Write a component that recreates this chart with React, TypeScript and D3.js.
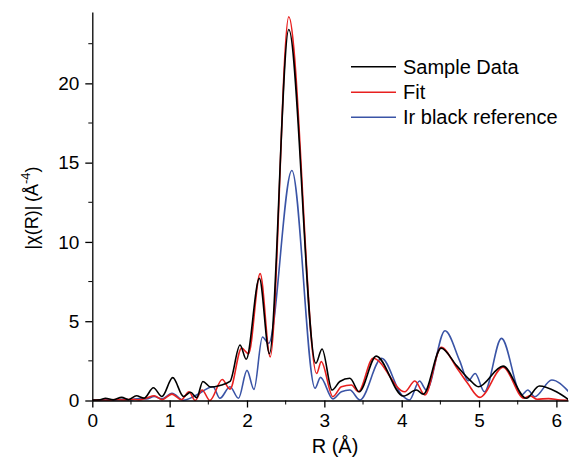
import { useRef, useEffect } from 'react';
import * as d3 from 'd3';

// Sample Data (black)
const sampleR = [0, 0.1, 0.17, 0.27, 0.38, 0.47, 0.57, 0.67, 0.79, 0.9, 1.04, 1.18, 1.27, 1.35, 1.43, 1.53, 1.65, 1.78, 1.91, 1.99, 2.16, 2.29, 2.54, 2.89, 2.97, 3.1, 3.2, 3.33, 3.45, 3.67, 4.02, 4.19, 4.28, 4.51, 4.71, 4.88, 4.99, 5.31, 5.61, 5.78, 6.0, 6.16];
const sampleChi = [0.03, 0.05, 0.14, 0.04, 0.2, 0.05, 0.3, 0.15, 0.8, 0.25, 1.44, 0.25, 0.52, 0.18, 1.2, 0.85, 0.95, 1.2, 3.5, 2.6, 7.7, 2.95, 23.4, 2.35, 3.25, 0.66, 1.2, 1.4, 0.55, 2.8, 0.28, 0.66, 0.4, 3.3, 2.2, 1.3, 0.87, 2.17, 0.14, 0.91, 0.55, 0.05];

// Fit (red)
const fitR = [0, 0.1, 0.2, 0.3, 0.4, 0.5, 0.6, 0.7, 0.8, 0.9, 1.03, 1.15, 1.25, 1.33, 1.42, 1.52, 1.68, 1.78, 1.93, 2.02, 2.17, 2.3, 2.54, 2.9, 2.96, 3.11, 3.22, 3.35, 3.44, 3.63, 4.04, 4.17, 4.3, 4.51, 4.72, 4.85, 5.01, 5.31, 5.58, 5.66, 5.75, 5.9, 6.05, 6.16];
const fitChi = [0.02, 0.04, 0.02, 0.06, 0.03, 0.08, 0.04, 0.15, 0.3, 0.05, 0.4, 0.05, 0.55, 0.0, 0.66, 0.0, 1.32, 0.72, 3.3, 2.95, 8.0, 2.75, 24.2, 1.7, 2.45, 0.24, 0.87, 0.98, 0.55, 2.66, 0.55, 1.23, 0.35, 3.35, 2.0, 1.1, 0.2, 2.1, 0.15, 0.3, 0.08, 0.12, 0.03, 0.02];

// Ir black reference (blue)
const refR = [0, 0.1, 0.2, 0.3, 0.4, 0.5, 0.6, 0.7, 0.8, 0.9, 1.03, 1.18, 1.33, 1.56, 1.65, 1.78, 1.89, 2.0, 2.09, 2.2, 2.28, 2.58, 2.88, 2.95, 3.11, 3.22, 3.33, 3.46, 3.74, 4.0, 4.1, 4.23, 4.32, 4.56, 4.75, 4.86, 4.95, 5.07, 5.29, 5.55, 5.63, 5.72, 5.94, 6.16];
const refChi = [0.02, 0.03, 0.05, 0.04, 0.08, 0.05, 0.12, 0.1, 0.25, 0.1, 0.45, 0.02, 0.3, 0.87, 0.14, 0.87, 0.14, 1.9, 0.7, 4.0, 3.6, 14.5, 0.77, 1.46, 0.1, 0.55, 0.66, 0.03, 2.66, 0.35, 0.03, 1.23, 0.66, 4.4, 2.5, 1.25, 1.7, 0.55, 3.92, 0.35, 0.66, 0.24, 1.29, 0.55];

const seriesNames = ['Sample Data', 'Fit', 'Ir black reference'];
const seriesColors = ['#000000', '#e8201f', '#3a54a6'];

const xTicks = [0, 1, 2, 3, 4, 5, 6];
const xMinor = [0.5, 1.5, 2.5, 3.5, 4.5, 5.5];
const yTicks = [0, 5, 10, 15, 20];
const yMinor = [2.5, 7.5, 12.5, 17.5, 22.5];

const W = 569;
const H = 460;
const FONT = '"Liberation Sans", Arial, sans-serif';

export default function App() {
  const svgRef = useRef<SVGSVGElement>(null);

  useEffect(() => {
    const svg = d3.select(svgRef.current);
    svg.selectAll('*').remove();

    const margin = { top: 12, right: 1, bottom: 59.5, left: 92.3 };
    const x = d3.scaleLinear().domain([0, 6.15]).range([margin.left, W - margin.right]);
    const y = d3.scaleLinear().domain([0, 24.5]).range([H - margin.bottom, margin.top]);

    svg.append('defs').append('clipPath').attr('id', 'plot-clip')
      .append('rect')
      .attr('x', margin.left).attr('y', 0)
      .attr('width', W - margin.right - margin.left).attr('height', H - margin.bottom + 1);

    const line = d3.line<[number, number]>()
      .x(d => x(d[0]))
      .y(d => y(d[1]))
      .curve(d3.curveMonotoneX);

    const series = [
      d3.zip(sampleR, sampleChi),
      d3.zip(fitR, fitChi),
      d3.zip(refR, refChi),
    ] as [number, number][][];

    // blue first, then red, black on top
    const g = svg.append('g').attr('clip-path', 'url(#plot-clip)');
    [2, 1, 0].forEach(i => {
      g.append('path')
        .datum(series[i])
        .attr('d', line)
        .attr('fill', 'none')
        .attr('stroke', seriesColors[i])
        .attr('stroke-width', 1.6)
        .attr('stroke-linejoin', 'round');
    });

    // X axis
    const gx = svg.append('g').attr('transform', `translate(0,${H - margin.bottom})`);
    gx.call(d3.axisBottom(x).tickValues(xTicks).tickSize(7).tickSizeOuter(0).tickPadding(6).tickFormat(d3.format('d')));
    gx.append('g').selectAll('line').data(xMinor).join('line')
      .attr('x1', d => x(d)).attr('x2', d => x(d)).attr('y1', 0).attr('y2', 4)
      .attr('stroke', '#000');

    // Y axis
    const gy = svg.append('g').attr('transform', `translate(${margin.left},0)`);
    gy.call(d3.axisLeft(y).tickValues(yTicks).tickSize(7).tickSizeOuter(0).tickPadding(6).tickFormat(d3.format('d')));
    gy.append('g').selectAll('line').data(yMinor).join('line')
      .attr('y1', d => y(d)).attr('y2', d => y(d)).attr('x1', 0).attr('x2', -4)
      .attr('stroke', '#000');

    [gx, gy].forEach(a => {
      a.selectAll('.domain').attr('stroke', '#000').attr('stroke-width', 1.3);
      a.selectAll('.tick line').attr('stroke', '#000').attr('stroke-width', 1.3);
      a.selectAll('text').attr('font-family', FONT).attr('font-size', 19).attr('fill', '#000');
    });

    // axis titles
    svg.append('text')
      .attr('x', 335).attr('y', 453)
      .attr('text-anchor', 'middle')
      .attr('font-family', FONT).attr('font-size', 20)
      .text('R (Å)');

    const yl = svg.append('text')
      .attr('transform', `translate(38,208) rotate(-90)`)
      .attr('text-anchor', 'middle')
      .attr('font-family', FONT).attr('font-size', 18);
    yl.append('tspan').text('|χ(R)|\u2009(Å');
    yl.append('tspan').attr('font-size', 13).attr('dy', -8).text('-4');
    yl.append('tspan').attr('dy', 8).text(')');

    // legend
    const leg = svg.append('g');
    const rowY = [66.7, 92.3, 117.3];
    seriesNames.forEach((name, i) => {
      leg.append('line')
        .attr('x1', 351).attr('x2', 396)
        .attr('y1', rowY[i]).attr('y2', rowY[i])
        .attr('stroke', seriesColors[i]).attr('stroke-width', 1.6);
      leg.append('text')
        .attr('x', 403).attr('y', rowY[i] + 7)
        .attr('font-family', FONT).attr('font-size', 20)
        .text(name);
    });
  }, []);

  return (
    <svg
      ref={svgRef}
      width={W}
      height={H}
      style={{ position: 'absolute', left: 0, top: 0, background: '#fff' }}
    />
  );
}
